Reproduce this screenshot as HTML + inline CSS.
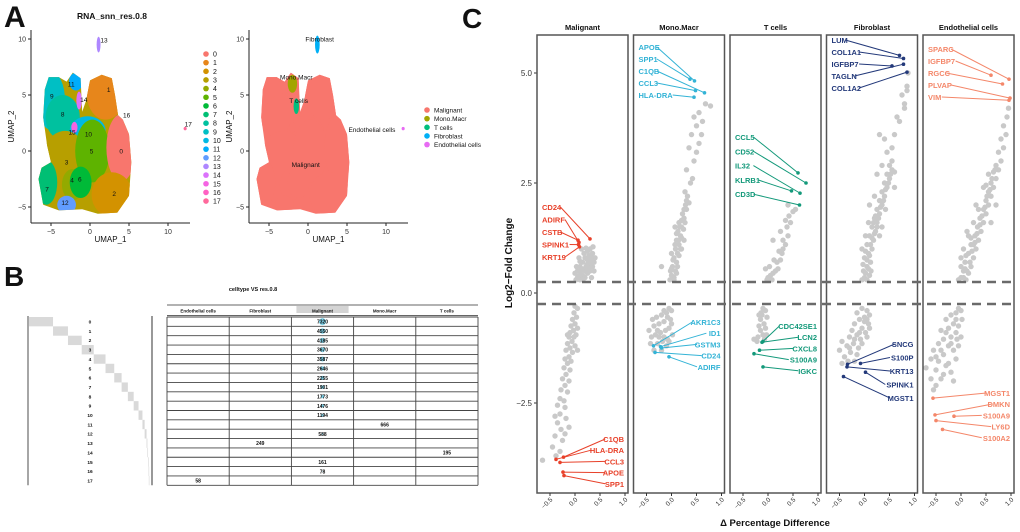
<!DOCTYPE html>
<html><head><meta charset="utf-8">
<style>
html,body{margin:0;padding:0;background:#fff;}
svg{display:block;font-family:"Liberation Sans",Arial,sans-serif;}
</style></head>
<body>
<svg id="fig" width="1020" height="532" viewBox="0 0 1020 532" xmlns="http://www.w3.org/2000/svg"></svg>
<script>
// ---------- DATA ----------
const clusterIds = ["0","1","2","3","4","5","6","7","8","9","10","11","12","13","14","15","16","17"];
const clusterColors = ["#F8766D","#E7861B","#D39200","#B79F00","#93AA00","#5EB300","#00BA38","#00BF74","#00C19F","#00BFC4","#00B9E3","#00ADFA","#619CFF","#AE87FF","#DB72FB","#F564E3","#FF61C3","#FF699C"];
// blob [cluster, cx, cy, rx, ry] in UMAP units
const umapBlobs = [
 [9,-5,4.5,1.8,2.6],[8,-3.5,3.0,2.2,2.0],[1,2.0,5,2.4,2.2],[10,-0.3,1.8,2.3,1.3],[3,-3.2,-1.5,3.2,3.3],[5,0.3,0.0,2.2,2.8],
 [4,-2.2,-3.0,1.4,1.4],[6,-1.2,-2.8,1.4,1.4],[7,-5.6,-2.8,1.4,2.0],[12,-3,-4.8,1.2,0.8],[0,4.0,0.3,1.9,3.0],
 [2,2.8,-3.9,2.6,2.0],[11,-1.8,6.2,0.9,0.8],[14,-1.4,4.5,0.35,0.8],[15,-2,2.1,0.4,0.5],[16,4.3,3.3,0.2,0.6],[13,1.1,9.5,0.25,0.7],[17,12.2,2,0.2,0.15]
];
const bodyOutline = [[-6.6,-2.5],[-6,-4.8],[-4,-5.3],[-1,-5.2],[1,-5.6],[3.5,-5.5],[5,-4],[5.3,-1],[5,1.5],[4.2,2.8],[3.6,3.2],[3.2,5],[2.8,6.5],[1.5,6.8],[0,6.3],[-0.5,4.5],[-1,3.5],[-1.2,6.5],[-2.2,7],[-3,6.2],[-4,6.6],[-5.3,6.6],[-5.8,5.5],[-6,3],[-5.5,0.5],[-5,-1],[-6.2,-1.5]];
const umapLabels = [[0,4,0],[1,2.4,5.5],[2,3.1,-3.8],[3,-3,-1],[4,-2.3,-2.6],[5,0.2,0],[6,-1.3,-2.5],[7,-5.5,-3.4],[8,-3.5,3.3],[9,-4.9,4.9],[10,-0.2,1.5],[11,-2.4,6],[12,-3.2,-4.6],[13,1.8,9.9],[14,-0.8,4.6],[15,-2.3,1.7],[16,4.7,3.2],[17,12.6,2.4]];
const cellTypes = ["Malignant","Mono.Macr","T cells","Fibroblast","Endothelial cells"];
const cellColors = ["#F8766D","#A3A500","#00BF7D","#00B0F6","#E76BF3"];

const tableCols = ["Endothelial cells","Fibroblast","Malignant","Mono.Macr","T cells"];
const clusterCounts = [7320,4550,4185,3670,3587,2646,2255,1901,1773,1476,1194,666,588,249,195,161,78,58];
const clusterCol = [2,2,2,2,2,2,2,2,2,2,2,3,2,1,4,2,2,0];

const panelNames = ["Malignant","Mono.Macr","T cells","Fibroblast","Endothelial cells"];
const panelColors = ["#E8412A","#33B3D6","#13997A","#23397A","#F4876A"];
const yTicks = [-2.5,0,2.5,5];
const xTicks = [-0.5,0,0.5,1];
const grayPts = [
"0.02,0.3 0.05,0.35 0.1,0.3 0.15,0.4 0.2,0.35 0.25,0.45 0.3,0.5 0.35,0.6 0.38,0.7 0.4,0.8 0.35,0.9 0.3,1.0 0.25,0.95 0.2,0.8 0.15,0.7 0.1,0.6 0.05,0.5 0.0,0.45 0.12,0.5 0.22,0.6 0.28,0.7 0.32,0.8 0.18,0.9 0.08,0.8 0.38,0.5 0.03,0.6 0.27,0.55 0.13,1.0 0.33,0.35 0.2,0.5 0.25,0.75 0.36,1.05 0.1,0.4 0.3,0.65 0.06,0.38 0.14,0.55 0.24,0.65 0.34,0.72 0.16,0.3 0.28,0.85 0.1,0.72 0.22,1.02 0.0,-0.3 0.05,-0.35 -0.02,-0.45 0.03,-0.55 -0.05,-0.6 0.0,-0.7 -0.08,-0.75 -0.03,-0.85 -0.1,-0.9 0.02,-0.95 -0.12,-1.0 -0.06,-1.1 -0.15,-1.15 0.0,-1.2 -0.1,-1.25 -0.18,-1.3 -0.05,-1.35 -0.12,-1.45 -0.2,-1.5 -0.08,-1.55 -0.15,-1.6 -0.22,-1.7 -0.1,-1.75 -0.18,-1.85 -0.25,-1.95 -0.12,-2.0 -0.2,-2.1 -0.28,-2.2 -0.15,-2.25 -0.3,-2.4 -0.22,-2.45 -0.35,-2.55 -0.2,-2.6 -0.3,-2.75 -0.4,-2.8 -0.18,-2.85 -0.35,-2.95 -0.28,-3.1 -0.12,-3.05 -0.4,-3.25 -0.25,-3.35 -0.45,-3.5 -0.3,-3.6 -0.38,-3.7 -0.65,-3.8 -0.2,-3.2 0.05,-0.8 -0.02,-1.0 0.05,-1.3 -0.15,-0.95",
"-0.03,0.3 0.0,0.4 0.05,0.35 0.02,0.6 0.08,0.5 0.05,0.8 0.1,0.7 0.08,1.0 0.12,0.9 0.1,1.2 0.15,1.1 0.13,1.4 0.18,1.3 0.15,1.6 0.2,1.5 0.22,1.8 0.25,1.7 0.28,2.0 0.3,1.9 0.32,2.2 0.35,2.05 0.27,2.3 -0.2,0.6 0.07,1.5 0.2,1.0 0.38,2.5 0.3,2.8 0.45,3.0 0.5,3.2 0.55,3.4 0.35,3.3 0.4,3.6 0.6,3.6 0.62,3.9 0.5,3.8 0.45,4.0 0.55,4.1 0.68,4.3 0.78,4.25 0.42,2.6 0.25,1.2 0.0,0.9 0.05,0.3 0.1,0.45 0.0,0.55 0.12,0.6 0.03,0.75 0.15,0.85 0.07,1.1 0.18,1.0 0.1,1.35 0.2,1.25 0.16,1.5 0.24,1.45 0.2,1.65 0.27,1.6 0.25,1.9 0.3,2.1 -0.02,0.5 0.14,1.2 -0.05,-0.35 0.0,-0.4 -0.1,-0.45 -0.2,-0.5 -0.3,-0.55 -0.02,-0.6 -0.15,-0.65 -0.25,-0.7 -0.35,-0.75 -0.05,-0.8 -0.12,-0.85 -0.22,-0.9 -0.32,-0.95 -0.4,-1.0 0.02,-0.95 -0.08,-1.05 -0.18,-1.1 -0.28,-1.15 -0.42,-1.15 -0.1,-1.2 -0.35,-1.3 -0.2,-1.3 0.0,-0.7 -0.38,-0.6 -0.45,-0.85 -0.15,-0.4 -0.25,-1.0 -0.05,-1.1 -0.08,-0.55 -0.28,-0.85 -0.15,-1.0",
"-0.02,0.3 0.0,0.35 0.05,0.4 0.1,0.45 0.08,0.3 0.15,0.5 0.2,0.55 0.18,0.7 0.25,0.75 0.28,0.9 0.22,0.95 0.3,1.0 0.35,1.1 0.3,1.2 0.4,1.3 0.38,1.5 0.45,1.6 0.42,1.75 0.5,1.85 0.35,1.65 0.1,1.2 0.4,2.0 0.03,0.6 0.12,0.75 -0.05,0.55 0.25,1.4 0.55,1.9 -0.1,-0.35 -0.05,-0.4 -0.12,-0.5 -0.02,-0.55 -0.15,-0.6 -0.08,-0.7 -0.18,-0.75 -0.05,-0.8 -0.15,-0.85 -0.1,-0.95 -0.2,-1.0 -0.07,-1.05 -0.22,-1.1 -0.14,-0.45 -0.03,-0.95 -0.18,-0.5 -0.28,-1.05",
"-0.05,0.3 0.0,0.35 0.05,0.3 0.1,0.4 -0.02,0.5 0.05,0.6 0.12,0.7 0.0,0.8 0.08,0.9 0.15,1.0 0.05,1.1 0.18,1.2 0.1,1.3 0.22,1.4 0.15,1.5 0.25,1.6 0.2,1.7 0.3,1.8 0.25,1.9 0.35,2.0 0.3,2.1 0.4,2.2 0.35,2.3 0.45,2.4 0.4,2.5 0.5,2.6 0.45,2.7 0.55,2.8 0.6,2.75 0.5,2.9 0.55,3.0 0.25,2.7 0.35,2.9 0.45,3.2 0.3,3.6 0.4,3.5 0.55,3.3 0.6,3.6 0.7,3.9 0.65,4.0 0.8,4.3 0.75,4.5 0.85,4.6 0.8,4.2 0.85,4.7 0.87,5.0 -0.05,1.0 0.1,2.0 0.2,2.2 0.08,1.6 0.3,1.3 0.35,1.5 0.42,1.9 0.02,1.3 0.6,2.4 0.02,0.45 0.08,0.55 -0.03,0.65 0.1,0.85 0.02,0.95 0.12,1.1 0.2,1.35 0.15,1.25 0.25,1.5 0.18,1.6 0.28,1.7 0.32,1.95 0.38,2.1 0.42,2.35 0.48,2.5 0.52,2.7 0.05,0.75 0.13,0.5 0.22,1.75 -0.05,-0.35 0.05,-0.4 0.1,-0.5 -0.15,-0.45 0.0,-0.55 -0.1,-0.6 0.08,-0.7 -0.2,-0.7 -0.05,-0.8 -0.25,-0.85 0.02,-0.9 -0.15,-0.95 -0.3,-1.0 -0.08,-1.05 -0.45,-1.1 -0.22,-1.15 -0.35,-1.2 -0.12,-1.25 -0.5,-1.3 -0.28,-1.35 -0.4,-1.45 -0.15,-1.4 -0.33,-1.55 -0.45,-1.6 -0.2,-1.55 0.05,-1.0 0.1,-0.8 0.0,-0.65 -0.1,-0.9 -0.2,-1.05 -0.3,-1.25 -0.05,-1.15 0.05,-0.6",
"-0.05,0.3 0.0,0.35 0.1,0.3 0.05,0.5 0.15,0.45 0.2,0.6 0.08,0.7 0.25,0.8 0.15,0.9 0.3,1.0 0.2,1.1 0.35,1.2 0.28,1.3 0.4,1.4 0.33,1.5 0.45,1.6 0.38,1.7 0.5,1.8 0.45,1.9 0.55,2.0 0.5,2.1 0.6,2.2 0.55,2.3 0.65,2.4 0.6,2.5 0.7,2.6 0.65,2.75 0.75,2.8 0.7,2.9 0.8,3.0 0.75,3.2 0.85,3.3 0.8,3.5 0.9,3.6 0.85,3.8 0.92,4.0 0.95,4.2 0.15,1.3 0.25,1.6 0.3,2.0 0.45,2.4 0.55,2.7 0.05,1.0 0.12,1.4 0.6,1.6 0.7,2.0 0.0,0.8 0.05,0.35 0.12,0.5 0.0,0.6 0.18,0.7 0.1,0.85 0.22,0.95 0.28,1.15 0.2,1.25 0.32,1.35 0.38,1.55 0.42,1.75 0.48,1.95 0.52,2.2 0.58,2.35 0.62,2.6 0.68,2.8 0.08,0.55 0.25,1.1 0.35,1.9 0.5,2.45 -0.05,-0.35 0.0,-0.4 -0.1,-0.45 -0.2,-0.5 0.02,-0.6 -0.3,-0.6 -0.15,-0.7 -0.05,-0.75 -0.25,-0.8 -0.4,-0.85 -0.1,-0.9 -0.2,-1.0 -0.35,-1.05 0.0,-1.0 -0.45,-1.15 -0.25,-1.2 -0.55,-1.3 -0.15,-1.3 -0.35,-1.4 -0.6,-1.5 -0.45,-1.55 -0.25,-1.6 -0.7,-1.7 -0.5,-1.75 -0.35,-1.85 -0.6,-1.95 -0.1,-1.5 -0.05,-1.2 -0.5,-2.1 -0.4,-1.95 -0.2,-1.8 -0.55,-2.2 -0.15,-2.0 -0.1,-0.6 -0.3,-0.9 -0.2,-1.15 -0.4,-1.3 -0.3,-1.65 -0.5,-1.45 -0.08,-1.05"
];
const upGenes = [["CD24","ADIRF","CSTB","SPINK1","KRT19"],["APOE","SPP1","C1QB","CCL3","HLA-DRA"],["CCL5","CD52","IL32","KLRB1","CD3D"],["LUM","COL1A1","IGFBP7","TAGLN","COL1A2"],["SPARC","IGFBP7","RGCC","PLVAP","VIM"]];
const upX = [[0.3,0.08,0.06,0.07,0.09],[0.46,0.37,0.66,0.48,0.45],[0.6,0.76,0.64,0.47,0.63],[0.7,0.78,0.55,0.78,0.85],[0.96,0.6,0.83,0.98,0.96]];
const upY = [[1.23,1.15,1.2,1.1,1.05],[4.82,4.86,4.55,4.6,4.45],[2.73,2.5,2.27,2.32,2.0],[5.4,5.33,5.16,5.2,5.02],[4.86,4.95,4.75,4.43,4.38]];
const downGenes = [["C1QB","HLA-DRA","CCL3","APOE","SPP1"],["AKR1C3","ID1","GSTM3","CD24","ADIRF"],["CDC42SE1","LCN2","CXCL8","S100A9","IGKC"],["SNCG","S100P","KRT13","SPINK1","MGST1"],["MGST1","DMKN","S100A9","LY6D","S100A2"]];
const downX = [[-0.23,-0.38,-0.3,-0.24,-0.22],[-0.36,-0.22,-0.2,-0.33,-0.05],[-0.1,-0.12,-0.17,-0.28,-0.1],[-0.34,-0.08,-0.35,0.02,-0.42],[-0.56,-0.52,-0.14,-0.5,-0.37]];
const downY = [[-3.73,-3.78,-3.85,-4.07,-4.15],[-1.2,-1.22,-1.25,-1.35,-1.45],[-1.1,-1.12,-1.3,-1.38,-1.68],[-1.62,-1.6,-1.68,-1.8,-1.9],[-2.39,-2.77,-2.8,-2.9,-3.1]];

// ---------- HELPERS ----------
const NS="http://www.w3.org/2000/svg";
const svg=document.getElementById('fig');
function mk(tag,attrs,parent,text){const e=document.createElementNS(NS,tag);for(const k in attrs)e.setAttribute(k,attrs[k]);if(text!==undefined)e.textContent=text;(parent||svg).appendChild(e);return e;}
function txt(x,y,s,size,opts,parent){const o=Object.assign({x:x,y:y,'font-size':size,fill:'#111'},opts||{});return mk('text',o,parent,s);}
const defs=mk('defs',{});

// ---------- PANEL A ----------
const gA=mk('g',{});


const lblA=txt(4,27,"A",30,{'font-weight':'bold'},gA);


function umapPlot(ox,colorFn,name,bodyColor){
  const g=mk('g',{},gA);
  
  
  const sx=v=>ox+v*7.8, sy=v=>151-v*11.2;
  const d="M"+bodyOutline.map(p=>sx(p[0]).toFixed(1)+","+sy(p[1]).toFixed(1)).join(" L")+" Z";
  const cp=mk('clipPath',{id:'clip-'+name},defs);
  mk('path',{d:d},cp);
  const body=mk('path',{d:d,fill:bodyColor},g);
  
  
  const inner=mk('g',{'clip-path':'url(#clip-'+name+')'},g);
  umapBlobs.forEach(b=>{
    if(b[0]===13||b[0]===17) return;
    const e=mk('ellipse',{cx:sx(b[1]),cy:sy(b[2]),rx:b[3]*7.8,ry:b[4]*11.2,fill:colorFn(b[0])},inner);
    
    
  });
  const left=ox-59, bottom=223;
  mk('line',{x1:left,y1:30,x2:left,y2:bottom,stroke:'#222','stroke-width':1},g);
  mk('line',{x1:left,y1:bottom,x2:ox+100,y2:bottom,stroke:'#222','stroke-width':1},g);
  [-5,0,5,10].forEach(t=>{mk('line',{x1:sx(t),y1:bottom,x2:sx(t),y2:bottom+3,stroke:'#222'},g);txt(sx(t),bottom+11,t===-5?"−5":String(t),7,{'text-anchor':'middle',fill:'#333'},g);});
  [-5,0,5,10].forEach(t=>{mk('line',{x1:left-3,y1:sy(t),x2:left,y2:sy(t),stroke:'#222'},g);txt(left-5,sy(t)+2.5,t===-5?"−5":String(t),7,{'text-anchor':'end',fill:'#333'},g);});
  txt((left+ox+100)/2,bottom+19,"UMAP_1",8,{'text-anchor':'middle'},g);
  txt(0,0,"UMAP_2",8,{'text-anchor':'middle',transform:`translate(${left-17},${(30+bottom)/2}) rotate(-90)`},g);
  return {g,sx,sy};
}
const u1=umapPlot(90,i=>clusterColors[i],'umap-clusters','#B79F00');
[[13,1.1,9.5,0.25,0.7],[17,12.2,2,0.2,0.15]].forEach(b=>{
  const e=mk('ellipse',{cx:u1.sx(b[1]),cy:u1.sy(b[2]),rx:b[3]*7.8,ry:b[4]*11.2,fill:clusterColors[b[0]]},u1.g);
  
  
});
txt(112,19,"RNA_snn_res.0.8",8.5,{'text-anchor':'middle','font-weight':'bold'},u1.g);
umapLabels.forEach(l=>txt(u1.sx(l[1]),u1.sy(l[2])+2.5,String(l[0]),6.5,{'text-anchor':'middle'},u1.g));
clusterIds.forEach((id,i)=>{
  const y=54+i*8.65;
  const d=mk('circle',{cx:206,cy:y,r:2.8,fill:clusterColors[i]},u1.g);
  
  
  txt(213,y+2.5,id,7,{},u1.g);
});
const u2=umapPlot(308,i=>"#F8766D",'umap-celltype','#F8766D');
[[1,-2,6.0,0.6,0.8],[2,-1.5,4,0.35,0.7],[3,1.2,9.5,0.3,0.8],[4,12.2,2,0.2,0.15]].forEach(p=>{
  const e=mk('ellipse',{cx:u2.sx(p[1]),cy:u2.sy(p[2]),rx:p[3]*7.8,ry:p[4]*11.2,fill:cellColors[p[0]]},u2.g);
  
  
});
[["Fibroblast",1.5,10],["Mono.Macr",-1.5,6.6],["T cells",-1.2,4.5],["Endothelial cells",8.2,1.9],["Malignant",-0.3,-1.2]].forEach(l=>txt(u2.sx(l[1]),u2.sy(l[2])+2.5,l[0],6.5,{'text-anchor':'middle'},u2.g));
cellTypes.forEach((c,i)=>{
  const y=110+i*8.65;
  const d=mk('circle',{cx:427,cy:y,r:2.8,fill:cellColors[i]},u2.g);
  
  
  txt(434,y+2.5,c,6.5,{},u2.g);
});

// ---------- PANEL B ----------
const gB=mk('g',{});


const lblB=txt(4,286,"B",28,{'font-weight':'bold'},gB);


txt(253,291,"celltype VS  res.0.8",5.5,{'text-anchor':'middle','font-weight':'bold'},gB);
const rowTop=317, rowH=9.35, tL=167, tR=478, colW=(tR-tL)/5;
const total=clusterCounts.reduce((a,b)=>a+b,0);
const barScale=120/total;
mk('line',{x1:28,y1:rowTop-1,x2:28,y2:rowTop+18*rowH,stroke:'#888','stroke-width':1.5},gB);
mk('line',{x1:152,y1:rowTop-1,x2:152,y2:rowTop+18*rowH,stroke:'#555','stroke-width':1.2},gB);
let cum=0;
clusterCounts.forEach((c,i)=>{
  const r=mk('rect',{x:29+cum*barScale,y:rowTop+i*rowH,width:Math.max(c*barScale,0.6),height:rowH,fill:'#d9d9d9'},gB);
  
  
  cum+=c;
  txt(90,rowTop+i*rowH+6.5,clusterIds[i],4.8,{'text-anchor':'middle','font-weight':'bold'},gB);
});
mk('line',{x1:tL,y1:305,x2:tR,y2:305,stroke:'#333','stroke-width':0.8},gB);
mk('rect',{x:tL+2*colW+5,y:306,width:colW-10,height:7,fill:'#d4d4d4'},gB);
tableCols.forEach((c,j)=>txt(tL+(j+0.5)*colW,312.5,c,4.5,{'text-anchor':'middle','font-weight':'bold'},gB));
for(let i=0;i<=18;i++) mk('line',{x1:tL,y1:rowTop+i*rowH,x2:tR,y2:rowTop+i*rowH,stroke:'#444','stroke-width':0.9},gB);
mk('line',{x1:tL,y1:315.5,x2:tR,y2:315.5,stroke:'#333','stroke-width':0.8},gB);
for(let j=0;j<=5;j++) mk('line',{x1:tL+j*colW,y1:rowTop,x2:tL+j*colW,y2:rowTop+18*rowH,stroke:'#444','stroke-width':0.9},gB);
const maxC=Math.max(...clusterCounts);
clusterCounts.forEach((c,i)=>{
  const cx=tL+(clusterCol[i]+0.5)*colW, cy=rowTop+i*rowH+rowH/2;
  if(clusterCol[i]===2){const b=mk('circle',{cx:cx,cy:cy,r:3.5*Math.sqrt(c/maxC),fill:'#7fd3ea'},gB);
    
    }
  const t=txt(cx,cy+2,String(c),5,{'text-anchor':'middle','font-weight':'bold'},gB);
  
  
});

// ---------- PANEL C ----------
const gC=mk('g',{});


const lblC=txt(462,28,"C",28,{'font-weight':'bold'},gC);


const pLefts=[537,633.5,730,826.5,923], pW=91, pTop=35, pBot=493;
const yS=v=>293-v*44;
const xS=(p,v)=>pLefts[p]+38+v*50;
yTicks.forEach(t=>{mk('line',{x1:534,y1:yS(t),x2:537,y2:yS(t),stroke:'#333'},gC);
  txt(532,yS(t)+3,t<0?"−"+Math.abs(t).toFixed(1):t.toFixed(1),8,{'text-anchor':'end',fill:'#333'},gC);});
const yt=txt(0,0,"Log2−Fold Change",10,{'text-anchor':'middle','font-weight':'bold',transform:'translate(512,263) rotate(-90)'},gC);


const xt=txt(775,526,"Δ Percentage Difference",9.5,{'text-anchor':'middle','font-weight':'bold'},gC);


panelNames.forEach((nm,p)=>{
  const g=mk('g',{},gC);
  
  
  const L=pLefts[p];
  txt(L+pW/2,30,nm,7.5,{'text-anchor':'middle','font-weight':'bold'},g);
  grayPts[p].split(' ').forEach(s=>{const v=s.split(',').map(Number);
    const c=mk('circle',{cx:xS(p,v[0]),cy:yS(v[1]),r:2.7,fill:'#c9c9c9'},g);
    
    });
  const col=panelColors[p];
  upGenes[p].forEach((gn,i)=>{
    const px=xS(p,upX[p][i]), py=yS(upY[p][i]);
    const ly=(p===0?207:(p===1?47:(p===2?137:(p===3?40:49))))+i*(p===0?12.5:(p===2?14.3:12));
    const lx=L+5;
    const t=txt(lx,ly+3,gn,7.5,{fill:col,'font-weight':'bold'},g);
    
    
    const tw=gn.length*4.6+(gn.indexOf('-')>=0?2:0);
    mk('line',{x1:lx+tw,y1:ly,x2:px,y2:py,stroke:col,'stroke-width':1},g);
    const d=mk('circle',{cx:px,cy:py,r:1.8,fill:col},g);
    
    
  });
  downGenes[p].forEach((gn,i)=>{
    const px=xS(p,downX[p][i]), py=yS(downY[p][i]);
    const ly=(p===0?439:(p===1?322:(p===2?326:(p===3?344:393))))+i*(p===3?13.5:11.2);
    const rx=L+pW-4;
    const t=txt(rx,ly+3,gn,7.5,{fill:col,'font-weight':'bold','text-anchor':'end'},g);
    
    
    const tw=gn.length*4.7;
    mk('line',{x1:rx-tw,y1:ly,x2:px,y2:py,stroke:col,'stroke-width':1},g);
    const d=mk('circle',{cx:px,cy:py,r:1.8,fill:col},g);
    
    
  });
  mk('rect',{x:L,y:pTop,width:pW,height:pBot-pTop,fill:'none',stroke:'#555','stroke-width':1.5},g);
  xTicks.forEach(t=>{const x=xS(p,t);mk('line',{x1:x,y1:pBot,x2:x,y2:pBot+3,stroke:'#333'},g);
    txt(0,0,t<0?"−"+Math.abs(t).toFixed(1):t.toFixed(1),6.5,{'text-anchor':'end',fill:'#333',transform:`translate(${x+3},${pBot+7}) rotate(-45)`},g);});
});
[0.25,-0.25].forEach(v=>{const l=mk('line',{x1:537,y1:yS(v),x2:1015,y2:yS(v),stroke:'#6a6a6a','stroke-width':2.5,'stroke-dasharray':'9,6'},gC);
  
  });
</script>
</body></html>
